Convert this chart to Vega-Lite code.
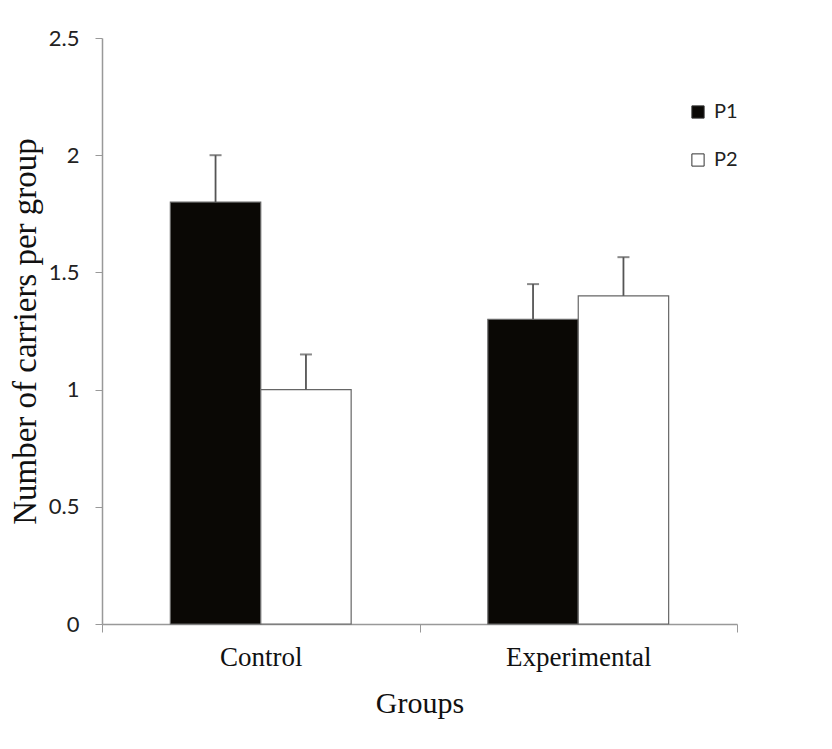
{
  "$schema": "https://vega.github.io/schema/vega-lite/v6.json",
  "width": 635,
  "height": 586,
  "autosize": {"type": "none"},
  "padding": {"left": 102, "top": 38, "right": 95, "bottom": 125},
  "background": "white",
  "config": {
    "view": {"stroke": null},
    "axis": {"grid": false}
  },
  "data": {
    "values": [
      {"group": "Control", "series": "P1", "mean": 1.8, "upper": 2.0},
      {"group": "Control", "series": "P2", "mean": 1.0, "upper": 1.15},
      {"group": "Experimental", "series": "P1", "mean": 1.3, "upper": 1.45},
      {"group": "Experimental", "series": "P2", "mean": 1.4, "upper": 1.565}
    ]
  },
  "encoding": {
    "x": {
      "field": "group",
      "type": "nominal",
      "scale": {"paddingInner": 0, "paddingOuter": 0},
      "axis": {
        "title": "Groups",
        "titleFont": "Liberation Serif",
        "titleFontSize": 30,
        "titleFontWeight": "normal",
        "titleColor": "#111",
        "titlePadding": 18,
        "labelFont": "Liberation Serif",
        "labelFontSize": 27,
        "labelColor": "#111",
        "labelAngle": 0,
        "labelPadding": 12,
        "tickBand": "extent",
        "tickSize": 8,
        "tickColor": "#999",
        "domainColor": "#999",
        "domainWidth": 1.5
      }
    },
    "xOffset": {
      "field": "series",
      "type": "nominal",
      "scale": {"paddingInner": 0, "paddingOuter": 0.756}
    }
  },
  "layer": [
    {
      "mark": {"type": "bar", "stroke": "#666", "strokeWidth": 1.2},
      "encoding": {
        "y": {
          "field": "mean",
          "type": "quantitative",
          "scale": {"domain": [0, 2.5], "nice": false},
          "axis": {
            "title": "Number of carriers per group",
            "titleFont": "Liberation Serif",
            "titleFontSize": 33,
            "titleFontWeight": "normal",
            "titleColor": "#111",
            "titlePadding": 6,
            "labelFont": "Lato",
            "labelFontSize": 22,
            "labelColor": "#222",
            "labelPadding": 16,
            "format": "~g",
            "values": [0, 0.5, 1, 1.5, 2, 2.5],
            "tickSize": 7,
            "tickColor": "#999",
            "domainColor": "#999",
            "domainWidth": 1.5
          }
        },
        "fill": {
          "field": "series",
          "type": "nominal",
          "scale": {"domain": ["P1", "P2"], "range": ["#0a0805", "#ffffff"]},
          "legend": {
            "title": null,
            "orient": "none",
            "legendX": 586,
            "legendY": 64,
            "symbolType": "square",
            "symbolSize": 150,
            "symbolStrokeColor": "#333",
            "symbolStrokeWidth": 1,
            "labelFont": "Lato",
            "labelFontSize": 20,
            "labelColor": "#222",
            "labelOffset": 6,
            "rowPadding": 28
          }
        }
      }
    },
    {
      "mark": {"type": "rule", "color": "#555", "strokeWidth": 1.8},
      "encoding": {
        "y": {"field": "mean", "type": "quantitative"},
        "y2": {"field": "upper"}
      }
    },
    {
      "mark": {"type": "tick", "color": "#555", "thickness": 2, "size": 12, "orient": "horizontal"},
      "encoding": {
        "y": {"field": "upper", "type": "quantitative"}
      }
    }
  ]
}
